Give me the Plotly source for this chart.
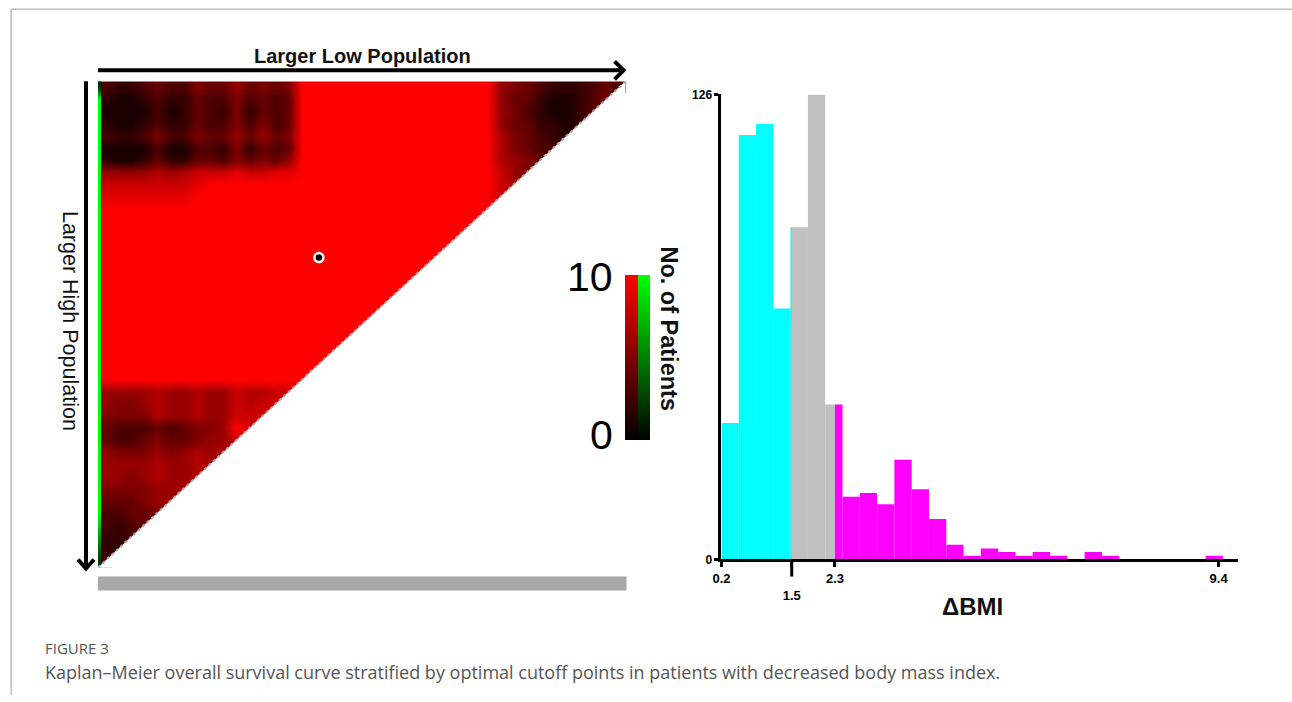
import plotly.graph_objects as go

# figure size, and the page it sits on (default 8 px body margin)
FIG_W, FIG_H = 1292, 702
BODY_MARGIN = 8
PAGE_W, PAGE_H = 1300, 718
# layout positions below are written on a 1292 x 702 design grid
LAYOUT_W, LAYOUT_H = 1292, 702
SX, SY = PAGE_W / LAYOUT_W, PAGE_H / LAYOUT_H

# ---------------- X-tile grid: No. of patients per cutoff pair ----------------
# one string per row (top to bottom), one hex digit per cell (A = 10)
GRID_N = 40
XTILE_ROWS = [
    "32234 33544 64545 AAAAA AAAAA AAAAA 65432 22343",
    "21123 22433 53434 AAAAA AAAAA AAAAA 64421 1235",
    "11113 12432 52434 AAAAA AAAAA AAAAA 65321 124",
    "21123 22433 53534 AAAAA AAAAA AAAAA 64422 12",
    "32235 33544 64645 AAAAA AAAAA AAAAA 75432 2",
    "11113 11332 52434 AAAAA AAAAA AAAAA 75433",
    "21124 22443 54546 AAAAA AAAAA AAAAA 7654",
    "66667 67888 98899 AAAAA AAAAA AAAAA 865",
    "88888 889AA AAAAA AAAAA AAAAA AAAAA 87",
    "99999 99AAA AAAAA AAAAA AAAAA AAAAA 8",
    "AAAAA AAAAA AAAAA AAAAA AAAAA AAAAA",
    "AAAAA AAAAA AAAAA AAAAA AAAAA AAAA",
    "AAAAA AAAAA AAAAA AAAAA AAAAA AAA",
    "AAAAA AAAAA AAAAA AAAAA AAAAA AA",
    "AAAAA AAAAA AAAAA AAAAA AAAAA A",
    "AAAAA AAAAA AAAAA AAAAA AAAAA",
    "AAAAA AAAAA AAAAA AAAAA AAAA",
    "AAAAA AAAAA AAAAA AAAAA AAA",
    "AAAAA AAAAA AAAAA AAAAA AA",
    "AAAAA AAAAA AAAAA AAAAA A",
    "AAAAA AAAAA AAAAA AAAAA",
    "AAAAA AAAAA AAAAA AAAA",
    "AAAAA AAAAA AAAAA AAA",
    "AAAAA AAAAA AAAAA AA",
    "AAAAA AAAAA AAAAA A",
    "66667 66766 87788",
    "65567 66766 8788",
    "55557 66766 888",
    "43334 34556 A8",
    "43345 44566 8",
    "65556 56767",
    "66667 6677",
    "66567 667",
    "55556 67",
    "44456 6",
    "33445",
    "3234",
    "223",
    "22",
    "3",
]
# first column (single-population cutoff), drawn in the green scale
EDGE_COLUMN = "2AAAA AAAAA AAAAA AAAAA AAAAA AAAAA AAAAA A8642"
OPTIMAL_CELL = (16.75, 14.5)  # (column, row) of the chosen cutoff pair
CBAR_LABELS = ["0", "10"]

# ---------------- ΔBMI histogram ----------------
BIN_START = 0.2
BIN_WIDTH = 0.32
COUNTS = [37, 115, 118, 68, 90, 126, 42, 17, 18, 15, 27, 19, 11, 4, 1,
          3, 2, 1, 2, 1, 0, 2, 1, 0, 0, 0, 0, 0, 1]
CUTOFFS = [1.5, 2.3]
GROUP_COLORS = ["#00ffff", "#c0c0c0", "#ff00ff"]
X_TICKS = [0.2, 1.5, 2.3, 9.4]
Y_TICKS = [0, 126]


def px(x):
    """design-grid column -> paper fraction"""
    return (x * SX - BODY_MARGIN) / FIG_W


def py(y):
    """design-grid row -> paper fraction"""
    return 1 - (y * SY - BODY_MARGIN) / FIG_H


# ---- build z matrix ----
z = []
for r, row in enumerate(XTILE_ROWS):
    cells = [int(ch, 16) for ch in row.replace(" ", "")]
    assert len(cells) == GRID_N - r, (r, len(cells))
    z.append(cells + [None] * (GRID_N - len(cells)))
edge_z = [[int(ch, 16)] for ch in EDGE_COLUMN.replace(" ", "")]
centers = [i + 0.5 for i in range(GRID_N)]

fig = go.Figure()

cbar_common = dict(xanchor="left", xpad=0, ypad=0, lenmode="pixels",
                   len=161 * SY, y=py(357.5), yanchor="middle",
                   outlinewidth=0, ticks="", showticklabels=False)
fig.add_trace(go.Heatmap(
    z=z, x=centers, y=centers, zmin=0, zmax=10, zsmooth="best",
    colorscale=[[0, "#000000"], [1, "#ff0000"]],
    xaxis="x", yaxis="y", hoverinfo="skip",
    colorbar=dict(x=px(624), thickness=13, **cbar_common),
))
fig.add_trace(go.Heatmap(
    z=edge_z, x=[0, 0.2], y=list(range(GRID_N + 1)), zmin=0, zmax=10,
    zsmooth="best", colorscale=[[0, "#000000"], [1, "#00ff00"]],
    xaxis="x", yaxis="y", hoverinfo="skip",
    colorbar=dict(x=px(637), thickness=12, **cbar_common),
))
# blank lower triangle and its dotted border
fig.add_trace(go.Scatter(
    x=[GRID_N, GRID_N, 0, GRID_N], y=[0, GRID_N, GRID_N, 0],
    mode="lines", fill="toself", fillcolor="white",
    line=dict(width=0, color="white"), xaxis="x", yaxis="y", hoverinfo="skip",
))
fig.add_trace(go.Scatter(
    x=[GRID_N, 0], y=[0, GRID_N], mode="lines",
    line=dict(color="#a8a8a8", width=2, dash="dot"),
    xaxis="x", yaxis="y", hoverinfo="skip",
))
fig.add_trace(go.Scatter(
    x=[OPTIMAL_CELL[0]], y=[OPTIMAL_CELL[1]], mode="markers",
    marker=dict(size=9, color="black", line=dict(color="white", width=2.5)),
    xaxis="x", yaxis="y", hoverinfo="skip",
))

# ---- histogram, split into the three ΔBMI groups ----
bounds = [-1e9] + CUTOFFS + [1e9]
for g, color in enumerate(GROUP_COLORS):
    xs, ws, ys = [], [], []
    for i, c in enumerate(COUNTS):
        lo = BIN_START + i * BIN_WIDTH
        hi = lo + BIN_WIDTH
        a, b = max(lo, bounds[g]), min(hi, bounds[g + 1])
        if b - a > 1e-9 and c > 0:
            xs.append((a + b) / 2)
            ws.append(b - a)
            ys.append(c)
    fig.add_trace(go.Bar(
        x=xs, y=ys, width=ws, marker=dict(color=color, line=dict(width=0)),
        xaxis="x2", yaxis="y2", hoverinfo="skip",
    ))

ARIAL = "Liberation Sans, Arial, sans-serif"
CAPTION_FONT = "Open Sans, Lato, sans-serif"

fig.update_layout(
    width=FIG_W, height=FIG_H, autosize=False,
    margin=dict(l=0, r=0, t=0, b=0),
    paper_bgcolor="white", plot_bgcolor="white",
    showlegend=False, barmode="overlay",
    xaxis=dict(domain=[px(97), px(625)], range=[0, GRID_N], visible=False,
               anchor="y"),
    yaxis=dict(domain=[py(567), py(82)], range=[GRID_N, 0], visible=False,
               anchor="x"),
    xaxis2=dict(domain=[px(721), px(1238)], range=[0.2, 9.76], anchor="y2",
                showline=True, linecolor="black", linewidth=3,
                showgrid=False, zeroline=False,
                tickvals=X_TICKS,
                ticktext=["0.2", "<br>1.5", "2.3", "9.4"],
                ticks="outside", ticklen=5, tickwidth=3, tickcolor="black",
                tickfont=dict(family=ARIAL, size=13, color="black",
                              weight="bold")),
    yaxis2=dict(domain=[py(559), py(95)], range=[0, 126], anchor="x2",
                showline=True, linecolor="black", linewidth=3,
                showgrid=False, zeroline=False,
                tickvals=Y_TICKS, ticks="outside", ticklen=4, tickwidth=2.5,
                tickcolor="black",
                tickfont=dict(family=ARIAL, size=12, color="black",
                              weight="bold")),
)

line_black = dict(color="black", width=4)
shapes = [
    # page frame
    dict(type="line", xref="paper", yref="paper", x0=px(10), x1=1,
         y0=py(10), y1=py(10), line=dict(color="#bcbcbc", width=1.5)),
    dict(type="line", xref="paper", yref="paper", x0=px(10), x1=px(10),
         y0=0, y1=py(10), line=dict(color="#bcbcbc", width=1.5)),
    # population arrows
    dict(type="line", xref="paper", yref="paper", x0=px(97), x1=px(622),
         y0=py(71), y1=py(71), line=line_black),
    dict(type="path", xref="paper", yref="paper",
         path=f"M {px(614)} {py(62)} L {px(623)} {py(71)} L {px(614)} {py(80)}",
         line=line_black),
    dict(type="line", xref="paper", yref="paper", x0=px(85), x1=px(85),
         y0=py(82), y1=py(566), line=line_black),
    dict(type="path", xref="paper", yref="paper",
         path=f"M {px(77)} {py(559)} L {px(85)} {py(568)} L {px(93)} {py(559)}",
         line=line_black),
    # grey bar under the grid
    dict(type="rect", xref="paper", yref="paper", x0=px(97), x1=px(626),
         y0=py(590), y1=py(576), fillcolor="#a8a8a8", line=dict(width=0)),
    # long tick at the first cutoff
    dict(type="line", xref="x2", yref="y2 domain", x0=CUTOFFS[0], x1=CUTOFFS[0],
         y0=0, y1=-17 / 464, line=dict(color="black", width=3)),
]
fig.update_layout(shapes=shapes)

ann = [
    dict(text="<b>Larger Low Population</b>", x=px(362), y=py(57),
         font=dict(family=ARIAL, size=20, color="#111111")),
    dict(text="Larger High Population", x=px(69), y=py(321), textangle=90,
         font=dict(family=ARIAL, size=21.5, color="#111111")),
    dict(text="<b>No. of Patients</b>", x=px(669), y=py(329), textangle=90,
         font=dict(family=ARIAL, size=23.5, color="#111111")),
    dict(text=CBAR_LABELS[1], x=px(589), y=py(277),
         font=dict(family=ARIAL, size=41, color="black")),
    dict(text=CBAR_LABELS[0], x=px(601), y=py(435),
         font=dict(family=ARIAL, size=41, color="black")),
    dict(text="<b>ΔBMI</b>", x=px(972), y=py(606),
         font=dict(family=ARIAL, size=24, color="#111111")),
    dict(text="FIGURE 3", x=px(42), y=py(647), xanchor="left",
         font=dict(family=CAPTION_FONT, size=15, color="#555555")),
    dict(text="Kaplan–Meier overall survival curve stratified by optimal "
              "cutoff points in patients with decreased body mass index.",
         x=px(42), y=py(671), xanchor="left",
         font=dict(family=CAPTION_FONT, size=18, color="#555555")),
]
for a in ann:
    a.setdefault("xanchor", "center")
    a.update(xref="paper", yref="paper", yanchor="middle", showarrow=False)
fig.update_layout(annotations=ann)

fig.write_html("out.html")
